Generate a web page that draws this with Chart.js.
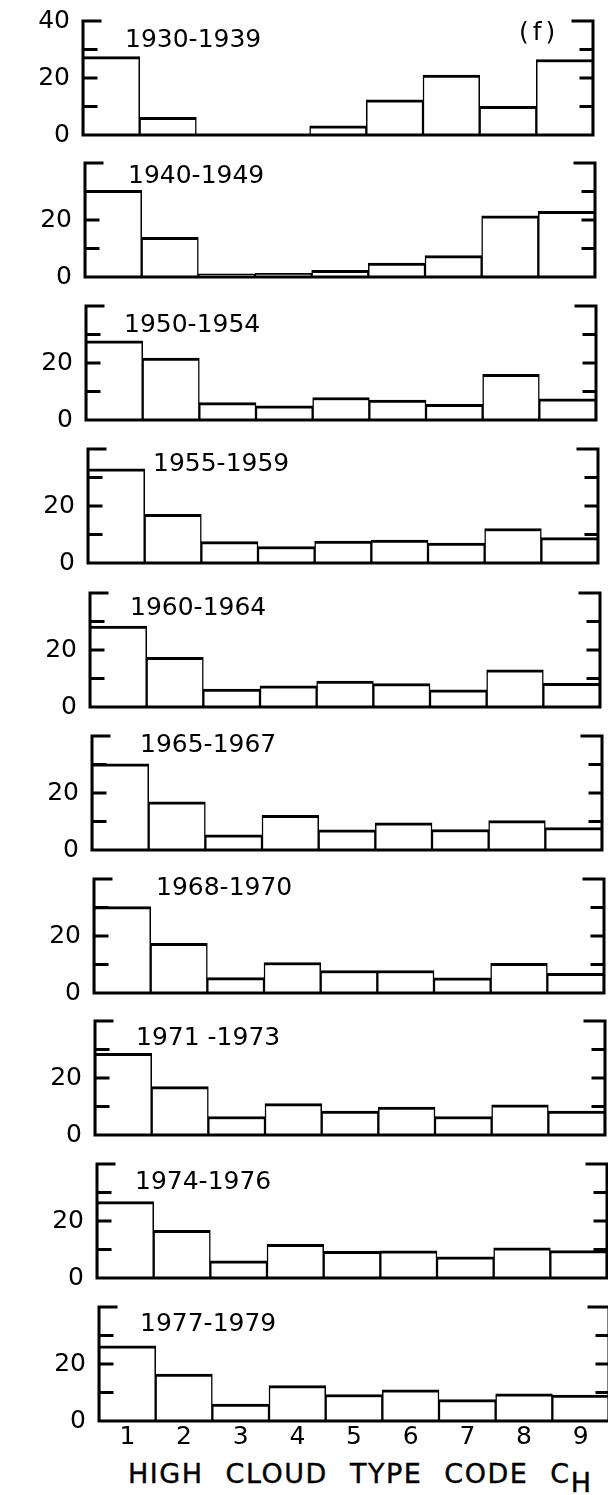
<!DOCTYPE html>
<html>
<head>
<meta charset="utf-8">
<script src="https://cdn.jsdelivr.net/npm/chart.js@4.4.1/dist/chart.umd.min.js"></script>
<style>
  html, body { margin: 0; padding: 0; background: #fff; overflow: hidden; }
  body { width: 608px; height: 1495px; position: relative; }
  .panel { position: absolute; }
  .panel canvas { display: block; }
  #xtitle {
    position: absolute; left: 128px; top: 1460px;
    font: 27px "DejaVu Sans", sans-serif; line-height: 27px;
    letter-spacing: 1.5px; word-spacing: 12px; color: #000; white-space: nowrap;
    -webkit-text-stroke: 0.4px #000;
  }
  #xtitle span { position: relative; top: 9px; }
</style>
</head>
<body>
<div id="xtitle">HIGH CLOUD TYPE CODE C<span>H</span></div>
<script>
// ── Datos: frecuencia (%) de cada tipo de nube alta C_H por periodo ──
const codes   = ['1', '2', '3', '4', '5', '6', '7', '8', '9'];
const periods = ['1930-1939', '1940-1949', '1950-1954', '1955-1959', '1960-1964',
                 '1965-1967', '1968-1970', '1971 -1973', '1974-1976', '1977-1979'];

const f1930 = [27.5,  6.2,  0,    0,    3.2, 12.3, 21.0, 10.1, 26.5];
const f1940 = [30.4, 13.9,  1.1,  1.3,  2.3,  4.9,  7.5, 21.5, 23.0];
const f1950 = [27.8, 21.7,  6.1,  5.0,  7.9,  7.0,  5.5, 16.0,  7.4];
const f1955 = [33.0, 17.1,  7.5,  5.8,  7.7,  8.0,  7.0, 12.1,  8.9];
const f1960 = [28.4, 17.4,  6.3,  7.4,  9.1,  8.2,  6.0, 13.0,  8.3];
const f1965 = [30.2, 16.9,  5.3, 12.2,  7.1,  9.5,  7.2, 10.3,  7.9];
const f1968 = [30.3, 17.4,  5.4, 10.7,  7.9,  7.9,  5.3, 10.4,  6.9];
const f1971 = [28.7, 17.0,  6.5, 11.0,  8.4,  9.8,  6.5, 10.6,  8.4];
const f1974 = [26.8, 16.7,  6.0, 11.8,  9.4,  9.5,  7.4, 10.6,  9.6];
const f1977 = [26.4, 16.5,  5.9, 12.4,  9.3, 10.9,  7.5,  9.5,  9.1];
const series = [f1930, f1940, f1950, f1955, f1960, f1965, f1968, f1971, f1974, f1977];

const yMax      = 40;
const yStep     = 10;
const yLabelled = [0, 20];       // etiquetas en todos los paneles
const yTopLabel = 40;            // solo en el primero
const panelTag  = '(f)';

// ── Maquetación de cada panel (px) ──────────────────────────────
const axisLeft = [83, 84.5, 86, 88, 90, 92, 94, 95, 97, 99];
const zeroY    = [135, 277, 420, 563, 707, 850, 993, 1135, 1278, 1421];
const titleDx  = [42, 43, 38, 65, 40, 48, 62, 41, 38, 41];
const titleDy  = [95, 101, 95, 99, 99, 105, 105, 97, 96, 97];
const PLOT_W = 510, PLOT_H = 114, Y_W = 83, PAD_T = 18, PAD_R = 10;
const FONT = '"DejaVu Sans", sans-serif';
const LW = 3;

// Marco: ejes izquierdo/derecho con ticks hacia dentro, línea base y etiqueta del periodo
const framePlugin = {
  id: 'frame',
  afterDatasetsDraw(chart, args, opts) {
    const { ctx, chartArea: a, scales: { y } } = chart;
    const top  = y.getPixelForValue(yMax);
    const base = y.getPixelForValue(0);
    ctx.save();
    ctx.strokeStyle = '#000';
    ctx.lineWidth = LW;
    ctx.lineCap = 'square';
    ctx.beginPath();
    ctx.moveTo(a.left + 17, top);
    ctx.lineTo(a.left, top);
    ctx.lineTo(a.left, base);
    ctx.lineTo(a.right, base);
    ctx.lineTo(a.right, top);
    ctx.lineTo(a.right - 20, top);
    y.ticks.filter(t => t.value > 0 && t.value < yMax).forEach(t => {
      const py = y.getPixelForValue(t.value);
      ctx.moveTo(a.left, py);  ctx.lineTo(a.left + 13, py);
      ctx.moveTo(a.right, py); ctx.lineTo(a.right - 12, py);
    });
    ctx.stroke();

    ctx.fillStyle = '#000';
    ctx.textBaseline = 'middle';
    ctx.font = '25px ' + FONT;
    ctx.fillText(opts.label, a.left + opts.dx, base - opts.dy);
    if (opts.tag) {
      ctx.letterSpacing = '4px';
      ctx.fillText(opts.tag, a.left + 436, base - 102);
    }
    ctx.restore();
  }
};

series.forEach((vals, i) => {
  const first = i === 0;
  const last  = i === series.length - 1;
  const bottomH = last ? 30 : 16;

  const wrap = document.createElement('div');
  wrap.className = 'panel';
  wrap.style.left = (axisLeft[i] - Y_W) + 'px';
  wrap.style.top  = (zeroY[i] - PLOT_H - PAD_T) + 'px';
  const cv = document.createElement('canvas');
  cv.width  = Y_W + PLOT_W + PAD_R;
  cv.height = PAD_T + PLOT_H + bottomH;
  wrap.appendChild(cv);
  document.body.appendChild(wrap);

  const shown = first ? yLabelled.concat([yTopLabel]) : yLabelled;

  new Chart(cv, {
    type: 'bar',
    data: {
      labels: codes,
      datasets: [{
        data: vals,
        backgroundColor: '#fff',
        borderColor: '#000',
        // lados a media anchura: las barras contiguas comparten una línea de grosor LW
        borderWidth: { top: LW, left: LW / 2, right: LW / 2, bottom: 0 },
        borderSkipped: 'start',
        categoryPercentage: 1,
        barPercentage: 1
      }]
    },
    options: {
      responsive: false,
      animation: false,
      devicePixelRatio: 1,
      layout: { padding: { top: PAD_T, right: PAD_R, left: 0, bottom: last ? 0 : bottomH } },
      plugins: {
        legend: { display: false },
        tooltip: { enabled: false },
        frame: { label: periods[i], dx: titleDx[i], dy: titleDy[i], tag: first ? panelTag : null }
      },
      scales: {
        x: {
          display: last,
          grid: { display: false, drawTicks: false },
          border: { display: false },
          ticks: { color: '#000', padding: 1, font: { family: FONT, size: 25 } },
          afterFit: s => {
            s.height = last ? bottomH : 0;
            s.paddingLeft = 0; s.paddingRight = 0;
          }
        },
        y: {
          min: 0, max: yMax,
          grid: { display: false, drawTicks: false },
          border: { display: false },
          ticks: {
            stepSize: yStep, autoSkip: false, padding: 13, color: '#000',
            font: { family: FONT, size: 25 },
            callback: v => shown.includes(v) ? String(v) : ''
          },
          // ancho fijo y sin relleno extra para que el área de dibujo quede exacta
          afterFit: s => { s.width = Y_W; s.paddingTop = 0; s.paddingBottom = 0; }
        }
      }
    },
    plugins: [framePlugin]
  });
});
</script>
</body>
</html>
